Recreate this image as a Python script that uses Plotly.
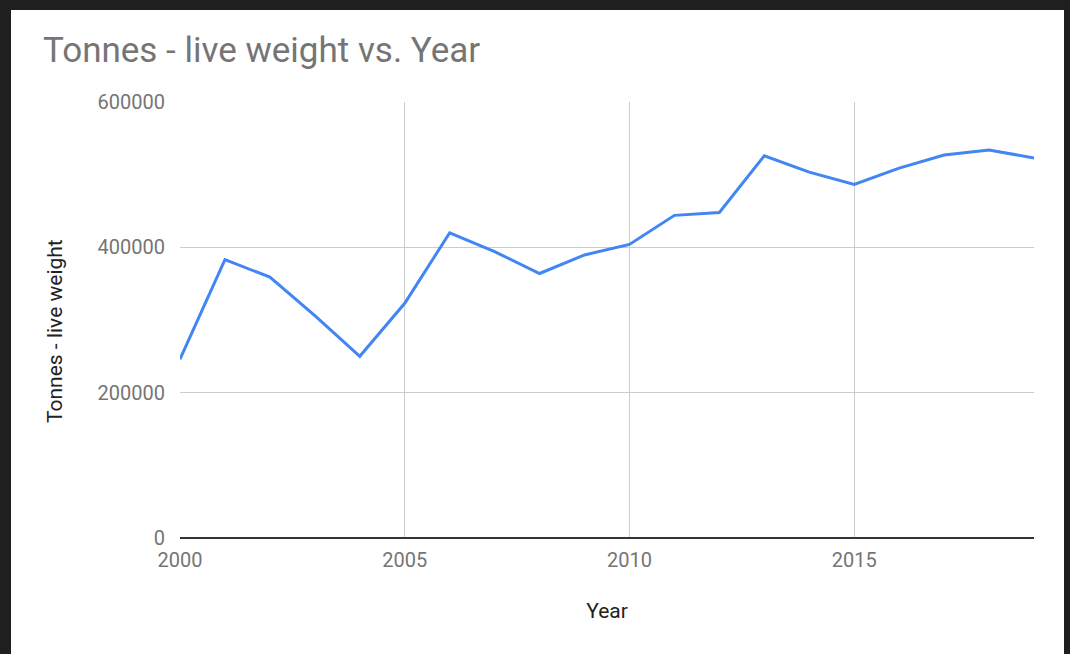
import plotly.graph_objects as go

years = list(range(2000, 2020))
tonnes = [246000, 383000, 359000, 306000, 250000, 323000, 420000, 394000, 364000, 389500,
          404000, 444000, 448000, 526000, 503500, 486500, 509000, 527000, 534000, 523000]

x_ticks = [2000, 2005, 2010, 2015]
y_ticks = [0, 200000, 400000, 600000]

W, H = 1070, 654
L, R, T, B = 180, 36, 102, 116
pw, ph = W - L - R, H - T - B

def px_x(p):
    return (p - L) / pw

def px_y(p):
    return (H - B - p) / ph

fig = go.Figure()
fig.add_trace(go.Scatter(x=years, y=tonnes, mode="lines",
                         line=dict(color="#4285F4", width=3), showlegend=False))

fig.update_layout(
    width=W, height=H,
    margin=dict(l=L, r=R, t=T, b=B, pad=0),
    paper_bgcolor="#1f1f1f",
    plot_bgcolor="rgba(0,0,0,0)",
    font=dict(family="Roboto", color="#757575", size=20),
    title=dict(text="Tonnes - live weight vs. Year", x=43 / W, xanchor="left",
               y=1 - 50 / H, yanchor="middle", yref="container",
               font=dict(family="Roboto", size=35, color="#757575")),
    shapes=[dict(type="rect", xref="paper", yref="paper",
                 x0=px_x(11), x1=px_x(1064), y0=px_y(10), y1=px_y(660),
                 fillcolor="white", line=dict(width=0), layer="below")],
    annotations=[dict(text="Tonnes - live weight", xref="paper", yref="paper",
                      x=px_x(55), y=px_y(331), xanchor="center", yanchor="middle",
                      textangle=-90, showarrow=False,
                      font=dict(family="Roboto", size=21, color="#222222"))],
)
fig.update_xaxes(range=[2000, 2019], tickvals=x_ticks, tickformat="d",
                 showgrid=True, gridcolor="#cccccc", gridwidth=1,
                 zeroline=False, showline=False, ticks="", ticklabelstandoff=8,
                 tickfont=dict(size=20, color="#757575"),
                 title=dict(text="Year", font=dict(size=21, color="#222222"), standoff=32))
fig.update_yaxes(range=[0, 600000], tickvals=y_ticks, tickformat="d",
                 showgrid=True, gridcolor="#cccccc", gridwidth=1,
                 zeroline=True, zerolinecolor="#333333", zerolinewidth=2,
                 showline=False, ticks="", ticklabelstandoff=14,
                 tickfont=dict(size=20, color="#757575"))

fig.write_html("out.html", config={"displayModeBar": False},
               post_script="document.body.style.margin='0';document.body.style.background='#1f1f1f';")
